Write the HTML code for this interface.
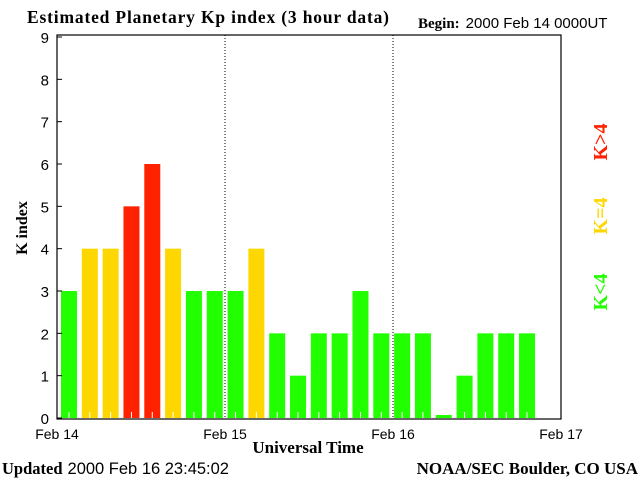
<!DOCTYPE html>
<html><head><meta charset="utf-8"><style>
body{margin:0;background:#fff;}
svg{display:block;}
.serif{font-family:"Liberation Serif",serif;font-weight:bold;}
.sans{font-family:"Liberation Sans",sans-serif;}
</style></head><body>
<svg id="chart" width="640" height="480">
<text class="serif" x="27" y="23" font-size="17.5" textLength="362">Estimated Planetary Kp index (3 hour data)</text>
<text x="418" y="28" font-size="15"><tspan class="serif">Begin:</tspan><tspan class="sans" dx="6">2000 Feb 14 0000UT</tspan></text>
<g id="plot"></g>
<text class="serif" transform="translate(27,228) rotate(-90)" text-anchor="middle" font-size="16">K index</text>
<text class="serif" x="308" y="453" text-anchor="middle" font-size="17">Universal Time</text>
<text x="2" y="474" font-size="16.5"><tspan class="serif">Updated</tspan><tspan class="sans" dx="5">2000 Feb 16 23:45:02</tspan></text>
<text class="serif" x="638" y="474" text-anchor="end" font-size="17">NOAA/SEC Boulder, CO USA</text>
<text class="serif" transform="translate(607,142) rotate(-90)" text-anchor="middle" font-size="20" fill="#ff2200">K&gt;4</text>
<text class="serif" transform="translate(607,216) rotate(-90)" text-anchor="middle" font-size="20" fill="#ffd700">K=4</text>
<text class="serif" transform="translate(607,292) rotate(-90)" text-anchor="middle" font-size="20" fill="#22ff00">K&lt;4</text>
</svg>
<script>
const kpValues=[3,4,4,5,6,4,3,3,3,4,2,1,2,2,3,2,2,2,0,1,2,2,2];
const yTicks=[0,1,2,3,4,5,6,7,8,9];
const dayLabels=["Feb 14","Feb 15","Feb 16","Feb 17"];
const NS="http://www.w3.org/2000/svg";
const g=document.getElementById('plot');
const X0=57,X1=561,Y0=418,Y9=37;
const dayW=(X1-X0)/3, barSlot=20.82;
function xs(i){return X0+i*barSlot;}
function ys(v){return Y0-(Y0-Y9)*v/9;}
function mk(tag,attrs){const e=document.createElementNS(NS,tag);for(const k in attrs)e.setAttribute(k,attrs[k]);g.appendChild(e);return e;}
kpValues.forEach((v,i)=>{
  const col=v>4?'#ff2200':(v===4?'#ffd700':'#22ff00');
  const top=v===0?Y0-3:ys(v);
  const r=mk('rect',{x:xs(i)+4,y:top,width:16,height:Y0-top,fill:col});
  
  
  if(v>0){const t=mk('line',{x1:xs(i)+12,x2:xs(i)+12,y1:Y0-6,y2:Y0,stroke:'#fff','stroke-width':1});
  
  }
});
[1,2].forEach(d=>{const l=mk('line',{x1:X0+d*dayW,x2:X0+d*dayW,y1:35,y2:Y0,stroke:'#000','stroke-dasharray':'1,2'});

});
const frame=mk('rect',{x:X0,y:35,width:X1-X0,height:Y0+1-35,fill:'none',stroke:'#000','stroke-width':1.2});


yTicks.forEach(v=>{
  const y=ys(v);
  const l=mk('line',{x1:X0,x2:X0+5,y1:y,y2:y,stroke:'#000'});
  
  
  const t=mk('text',{x:49,y:y+6,'text-anchor':'end','font-size':15,'font-family':'Liberation Sans, sans-serif'});
  t.textContent=v;
  
  
});
dayLabels.forEach((s,d)=>{
  const t=mk('text',{x:X0+d*dayW,y:439,'text-anchor':'middle','font-size':14,'font-family':'Liberation Sans, sans-serif'});
  t.textContent=s;
  
  
});
</script>
</body></html>
